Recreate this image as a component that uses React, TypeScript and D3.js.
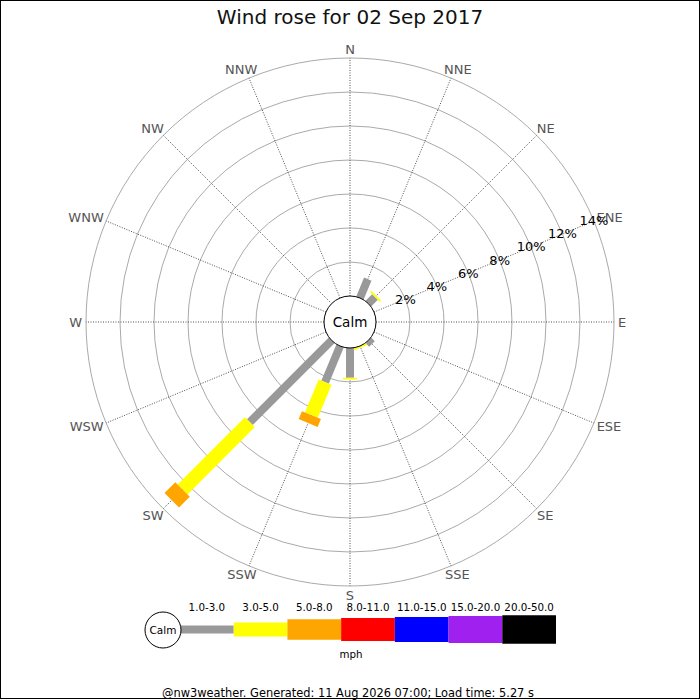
import { useMemo } from 'react'
import * as d3 from 'd3'

// 16 compass points, clockwise from north
const directions = ['N', 'NNE', 'NE', 'ENE', 'E', 'ESE', 'SE', 'SSE', 'S', 'SSW', 'SW', 'WSW', 'W', 'WNW', 'NW', 'NNW']

// speed classes (mph)
const speedBins = ['1.0-3.0', '3.0-5.0', '5.0-8.0', '8.0-11.0', '11.0-15.0', '15.0-20.0', '20.0-50.0']

// frequency (%) per direction for each speed class
const speed1to3 = [0, 1.2, 0.55, 0, 0, 0, 0.3, 0, 1.75, 2.3, 6.8, 0, 0, 0, 0, 0]
const speed3to5 = [0, 0, 0.1, 0, 0, 0, 0, 0.1, 0.1, 2.1, 5.6, 0, 0, 0, 0, 0]
const speed5to8 = [0, 0, 0, 0, 0, 0, 0, 0, 0, 0.5, 0.9, 0, 0, 0, 0, 0]
const speed8to11 = [0, 0, 0, 0, 0, 0, 0, 0, 0, 0, 0, 0, 0, 0, 0, 0]
const speed11to15 = [0, 0, 0, 0, 0, 0, 0, 0, 0, 0, 0, 0, 0, 0, 0, 0]
const speed15to20 = [0, 0, 0, 0, 0, 0, 0, 0, 0, 0, 0, 0, 0, 0, 0, 0]
const speed20to50 = [0, 0, 0, 0, 0, 0, 0, 0, 0, 0, 0, 0, 0, 0, 0, 0]

const ringTicks = [2, 4, 6, 8, 10, 12, 14]

const colors = ['#999999', '#ffff00', '#ffa500', '#ff0000', '#0000ff', '#a020f0', '#000000']
const barWidths = [8, 14, 20.5, 23, 25, 27, 28.5]

const W = 700
const H = 700
const cx = 350
const cy = 322
const calmR = 26
const font = 'DejaVu Sans, Verdana, sans-serif'
const dirFont = 13
// rough DejaVu Sans glyph widths (em) for the compass letters
const glyphW: Record<string, number> = { N: 0.748, E: 0.632, S: 0.635, W: 0.989 }

export default function App() {
  const r = d3.scaleLinear().domain([0, 14]).range([calmR, 264])
  const angle = d3.scalePoint<string>().domain(directions).range([0, 360 - 22.5])

  // stacked segments per direction
  const stacked = useMemo(() => {
    const series = [speed1to3, speed3to5, speed5to8, speed8to11, speed11to15, speed15to20, speed20to50]
    const rows = directions.map((d, i) => {
      const row: Record<string, any> = { dir: d }
      speedBins.forEach((b, k) => (row[b] = series[k][i]))
      return row
    })
    return d3.stack<any>().keys(speedBins)(rows)
  }, [])

  const pt = (deg: number, rad: number, off = 0) => {
    const a = (deg * Math.PI) / 180
    const ux = Math.sin(a)
    const uy = -Math.cos(a)
    return [cx + ux * rad + Math.cos(a) * off, cy + uy * rad + Math.sin(a) * off] as [number, number]
  }

  const barPath = (deg: number, v0: number, v1: number, w: number) => {
    const r0 = r(v0)
    const r1 = r(v1)
    const pts = [pt(deg, r0, -w / 2), pt(deg, r1, -w / 2), pt(deg, r1, w / 2), pt(deg, r0, w / 2)]
    return d3.line()(pts) + 'Z'
  }

  // label box sits just outside the outer ring (like matplotlib's polar ticks)
  const dirLabelPos = (d: string) => {
    const deg = angle(d)!
    const a = (deg * Math.PI) / 180
    const [bx, by] = pt(deg, r(14) + 4)
    const w = d.split('').reduce((s, c) => s + glyphW[c], 0) * dirFont
    const h = 10
    return [bx + Math.sin(a) * (w / 2), by - Math.cos(a) * (h / 2)]
  }

  const legendX = d3.scaleBand<string>().domain(speedBins).range([180, 556]).paddingInner(0)
  const legendY = 629.5
  const labelAngle = angle('ENE')!

  return (
    <svg width={W} height={H} style={{ position: 'absolute', left: 0, top: 0, background: '#fff' }} fontFamily={font}>
      <rect x={0} y={0} width={W} height={H} fill="#fff" />
      <text x={cx} y={17} textAnchor="middle" dominantBaseline="central" fontSize={20} fill="#111">
        Wind rose for 02 Sep 2017
      </text>

      {/* rings */}
      {ringTicks.map((t) => (
        <circle key={t} cx={cx} cy={cy} r={r(t)} fill="none" stroke="#aaaaaa" strokeWidth={1} />
      ))}

      {/* spokes */}
      {directions.map((d) => {
        const [x1, y1] = pt(angle(d)!, calmR)
        const [x2, y2] = pt(angle(d)!, r(14))
        return <line key={d} x1={x1} y1={y1} x2={x2} y2={y2} stroke="#222" strokeWidth={0.8} strokeDasharray="1,1.5" />
      })}

      {/* direction labels */}
      {directions.map((d) => {
        const [x, y] = dirLabelPos(d)
        return (
          <text key={d} x={x} y={y} textAnchor="middle" dominantBaseline="central" fontSize={dirFont} fill="#555">
            {d}
          </text>
        )
      })}

      {/* bars */}
      {stacked.map((s, k) => (
        <g key={s.key} fill={colors[k]}>
          {s.map((seg, i) =>
            seg[1] - seg[0] > 0 ? (
              <path key={i} d={barPath(angle(directions[i])!, seg[0], seg[1], barWidths[k])} />
            ) : null,
          )}
        </g>
      ))}

      {/* percentage labels */}
      {ringTicks.map((t) => {
        const [x, y] = pt(labelAngle, r(t))
        return (
          <text key={t} x={x} y={y} textAnchor="middle" dominantBaseline="central" fontSize={13} fill="#000">
            {t}%
          </text>
        )
      })}

      {/* calm circle */}
      <circle cx={cx} cy={cy} r={calmR} fill="#fff" stroke="#000" strokeWidth={1} />
      <text x={cx} y={cy} textAnchor="middle" dominantBaseline="central" fontSize={13.5} fill="#000">
        Calm
      </text>

      {/* legend */}
      {speedBins.map((b, k) => (
        <g key={b}>
          <rect
            x={legendX(b)!}
            y={legendY - barWidths[k] / 2}
            width={legendX.bandwidth()}
            height={barWidths[k]}
            fill={colors[k]}
          />
          <text
            x={legendX(b)! + legendX.bandwidth() / 2}
            y={607}
            textAnchor="middle"
            dominantBaseline="central"
            fontSize={10.3}
            fill="#000"
          >
            {b}
          </text>
        </g>
      ))}
      <circle cx={163} cy={630} r={18} fill="#fff" stroke="#000" strokeWidth={1} />
      <text x={163} y={630} textAnchor="middle" dominantBaseline="central" fontSize={10.5}>
        Calm
      </text>
      <text x={351} y={654} textAnchor="middle" dominantBaseline="central" fontSize={10.3}>
        mph
      </text>

      <text x={348} y={692.5} textAnchor="middle" dominantBaseline="central" fontSize={11.4} fill="#000">
        @nw3weather. Generated: 11 Aug 2026 07:00; Load time: 5.27 s
      </text>
      <rect x={0.5} y={0.5} width={699} height={698} fill="none" stroke="#000" strokeWidth={1} />
    </svg>
  )
}
